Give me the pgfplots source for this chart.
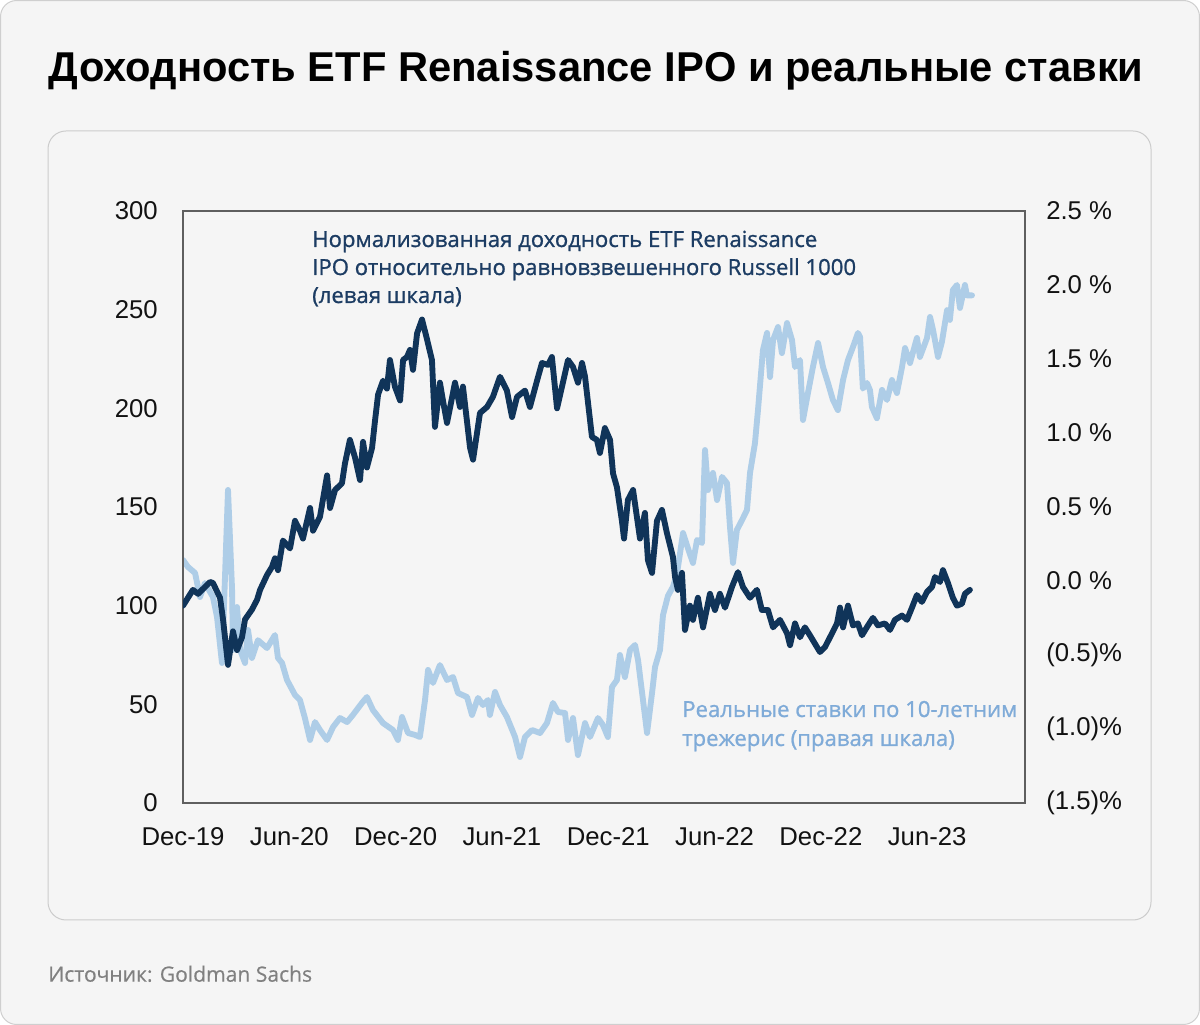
\documentclass[border=0pt]{standalone}
\usepackage{fontspec}
\setmainfont{Liberation Sans}
\newfontfamily\annfont[FakeBold=1.0]{Open Sans}
\newfontfamily\srcfont[FakeBold=0.4]{Open Sans}
\usepackage{pgfplots}
\pgfplotsset{compat=1.18}
\definecolor{bg}{HTML}{F5F5F5}
\definecolor{bordergray}{HTML}{CFCFCF}
\definecolor{panelgray}{HTML}{CCCCCC}
\definecolor{darkline}{HTML}{103459}
\definecolor{lightline}{HTML}{AECDE7}
\definecolor{darktext}{HTML}{1C3C63}
\definecolor{lighttext}{HTML}{7FABD8}
\definecolor{framegray}{HTML}{5F5F5F}
\definecolor{srcgray}{HTML}{808080}

\pgfplotstableread{
m v
0 100
0.56 108
0.85 106
1.52 112
1.69 111.5
2.09 104
2.26 93
2.54 70
2.82 87
3.05 77.5
3.33 84
3.50 93
3.89 98
4.18 103
4.35 108
4.74 115.5
5.02 119.6
5.19 124
5.36 118
5.64 133
6.04 129
6.32 143
6.60 138
6.77 134
7.17 149.5
7.34 138
7.73 145
8.13 166
8.30 149.5
8.58 158.6
8.97 162
9.14 172
9.42 184
9.71 175
9.99 163.7
10.16 183
10.38 170
10.67 180
10.84 194
11.01 207
11.29 214
11.51 210
11.68 224.5
11.96 211
12.25 204
12.42 224.5
12.64 226
12.81 229.6
12.98 219.5
13.21 238
13.49 245
13.77 235
14.05 224.5
14.22 190.6
14.50 213
14.67 204
14.90 192.6
15.35 213
15.63 200.7
15.80 211
16.20 180
16.37 174
16.76 197.6
17.16 200.7
17.49 205.8
17.89 216
18.28 209
18.57 195.6
18.85 205.8
19.30 209
19.58 200.7
19.98 214
20.26 223
20.60 222
20.82 226
21.11 200
21.44 213
21.73 224.5
22.01 221
22.29 213
22.52 223
22.69 216
22.86 202.7
23.08 185.5
23.36 184
23.53 177.4
23.81 190
24.10 184
24.27 167
24.49 160
24.77 143
24.89 134
25.11 153.6
25.40 158.6
25.79 134
26.07 147
26.24 123
26.47 116.6
26.75 143
27.03 148.5
27.31 136.8
27.65 124.7
27.77 114.5
27.93 108
28.16 116.6
28.33 87.7
28.61 100
28.78 92.8
29.06 104
29.35 89
29.74 106
30.02 97.8
30.30 106
30.59 99
30.98 109.5
31.32 117
31.60 109.5
32.00 104
32.39 108
32.67 97.8
33.01 97.8
33.30 89
33.69 92.8
34.09 86
34.26 80
34.54 91
34.82 84
35.10 89
35.38 85
35.78 79
35.95 76.5
36.23 79
36.63 86
36.91 91
37.08 99
37.25 89
37.53 100
37.81 90
38.09 91
38.32 85
38.66 90
38.94 93.8
39.22 90
39.62 91
39.90 87.7
40.18 92.8
40.58 95
40.86 92.8
41.14 99
41.42 105.4
41.70 101.9
41.99 107
42.27 109.5
42.44 114.5
42.72 112
42.89 118
43.17 111.5
43.45 104
43.68 100
43.96 101
44.13 106
44.41 108
}\etfdata

\pgfplotstableread{
m r
0 0.142
0.28 0.095
0.68 0.054
0.96 -0.108
1.24 -0.014
1.69 -0.108
1.92 -0.243
2.20 -0.554
2.37 0.027
2.54 0.615
2.77 -0.061
2.82 -0.466
3.05 -0.176
3.22 -0.466
3.50 -0.554
3.67 -0.331
3.89 -0.52
4.23 -0.40
4.74 -0.453
5.19 -0.365
5.36 -0.52
5.59 -0.554
5.87 -0.669
6.32 -0.77
6.60 -0.804
6.88 -0.926
7.17 -1.074
7.45 -0.953
7.73 -1.007
8.13 -1.074
8.47 -0.986
8.86 -0.926
9.26 -0.953
9.59 -0.905
10.10 -0.824
10.38 -0.784
10.72 -0.872
11.29 -0.96
11.85 -1.007
12.13 -1.074
12.36 -0.919
12.70 -1.027
13.09 -1.04
13.37 -1.054
13.66 -0.804
13.83 -0.601
14.11 -0.689
14.50 -0.568
14.90 -0.669
15.24 -0.649
15.52 -0.757
16.03 -0.784
16.31 -0.905
16.65 -0.79
16.93 -0.838
17.21 -0.804
17.32 -0.905
17.61 -0.75
17.89 -0.838
18.28 -0.919
18.74 -1.054
19.02 -1.189
19.30 -1.054
19.70 -1.007
20.15 -1.027
20.54 -0.96
20.88 -0.824
21.16 -0.885
21.56 -0.892
21.73 -1.074
22.01 -0.926
22.29 -1.176
22.69 -0.96
22.97 -1.054
23.42 -0.926
23.70 -0.973
23.98 -1.054
24.21 -0.716
24.49 -0.669
24.66 -0.50
24.94 -0.649
25.23 -0.466
25.51 -0.432
25.68 -0.534
25.96 -0.804
26.19 -1.027
26.47 -0.757
26.64 -0.581
26.92 -0.466
27.09 -0.23
27.37 -0.10
27.65 -0.04
27.88 0.05
28.22 0.324
28.50 0.22
28.78 0.122
29.01 0.277
29.29 0.257
29.46 0.885
29.63 0.615
29.91 0.73
30.14 0.547
30.42 0.703
30.70 0.662
30.87 0.365
31.04 0.122
31.26 0.345
31.55 0.412
31.83 0.48
32.00 0.73
32.28 0.932
32.45 1.155
32.73 1.56
32.96 1.676
33.13 1.378
33.30 1.628
33.58 1.716
33.80 1.54
34.09 1.743
34.37 1.628
34.54 1.446
34.82 1.493
34.99 1.088
35.27 1.27
35.55 1.446
35.84 1.608
36.12 1.446
36.40 1.338
36.68 1.223
36.96 1.155
37.25 1.358
37.53 1.493
37.81 1.581
38.09 1.676
38.21 1.649
38.37 1.30
38.60 1.338
38.77 1.29
38.88 1.176
39.16 1.10
39.45 1.291
39.73 1.223
40.01 1.358
40.29 1.27
40.58 1.446
40.75 1.574
41.03 1.473
41.42 1.642
41.59 1.514
41.99 1.642
42.16 1.784
42.33 1.696
42.61 1.514
42.83 1.615
43.12 1.83
43.28 1.764
43.45 1.966
43.68 2.0
43.85 1.845
44.13 2.0
44.24 1.93
44.53 1.93
}\ratedata

\begin{document}
\begin{tikzpicture}
\useasboundingbox (0,0) rectangle (900pt,768.75pt);
\fill[white] (0,0) rectangle (900pt,768.75pt);
\draw[bordergray, line width=0.75pt, fill=bg, rounded corners=12pt] (0.4pt,0.4pt) rectangle (899.6pt,768.35pt);
\draw[panelgray, line width=0.75pt, fill=bg, rounded corners=13.5pt] (36pt,78.75pt) rectangle (863.25pt,670.5pt);

\node[anchor=base west, inner sep=0pt] at (36.5pt,707.25pt) {\resizebox{821pt}{!}{\fontsize{33pt}{38pt}\selectfont\bfseries Доходность ETF Renaissance IPO и реальные ставки}};

\pgfplotsset{
  common/.style={
    scale only axis, width=631.5pt, height=444pt,
    at={(137.25pt,166.5pt)}, anchor=south west,
    xmin=0, xmax=47.52,
    major tick length=0pt,
    /pgf/number format/assume math mode=true,
    tick label style={font=\fontsize{19.3pt}{23pt}\selectfont, text=black!93, inner sep=0pt},
    clip=true,
  }
}

\begin{axis}[common,
  axis y line*=right, hide x axis,
  axis line style={draw=none},
  ymin=-1.5, ymax=2.5,
  ytick={-1.5,-1,-0.5,0,0.5,1,1.5,2,2.5},
  yticklabels={(1.5)\%,(1.0)\%,(0.5)\%,0.0 \%,0.5 \%,1.0 \%,1.5 \%,2.0 \%,2.5 \%},
  yticklabel style={anchor=west, xshift=15.75pt},
]
\addplot[lightline, line width=4.4pt, line join=round, line cap=round] table[x=m, y=r] {\ratedata};
\end{axis}

\begin{axis}[common,
  axis line style={framegray, line width=1.3pt},
  ymin=0, ymax=300,
  ytick={0,50,100,150,200,250,300},
  yticklabel style={anchor=east, xshift=-18.75pt},
  xtick={0,6,12,18,24,30,36,42},
  xticklabels={Dec-19,Jun-20,Dec-20,Jun-21,Dec-21,Jun-22,Dec-22,Jun-23},
  xticklabel style={anchor=north, yshift=-18pt},
]
\addplot[darkline, line width=4.4pt, line join=round, line cap=round] table[x=m, y=v] {\etfdata};
\end{axis}

\begin{scope}[every node/.style={anchor=base west, inner sep=0pt, font=\annfont\fontsize{16.6pt}{19pt}\selectfont}]
\node[text=darktext] at (234pt,583.5pt) {Нормализованная доходность ETF Renaissance};
\node[text=darktext] at (234pt,562.5pt) {IPO относительно равновзвешенного Russell 1000};
\node[text=darktext] at (234pt,541.5pt) {(левая шкала)};
\node[text=lighttext] at (511.5pt,231pt) {Реальные ставки по 10-летним};
\node[text=lighttext] at (511.5pt,209.25pt) {трежерис (правая шкала)};
\end{scope}
\node[anchor=base west, inner sep=0pt, text=srcgray, font=\srcfont\fontsize{15.8pt}{19pt}\selectfont] at (36pt,32.5pt) {Источник: Goldman Sachs};
\end{tikzpicture}
\end{document}
